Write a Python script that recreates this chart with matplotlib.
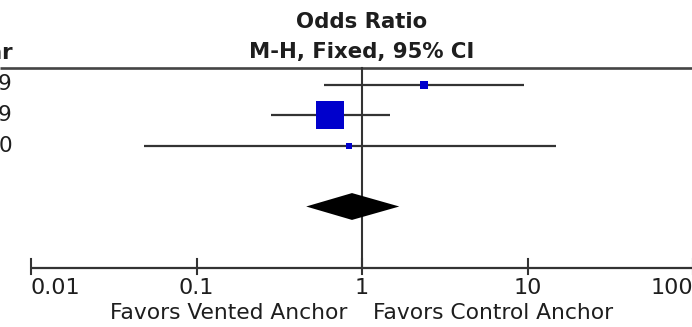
import numpy as np
import matplotlib
matplotlib.use("Agg")
import matplotlib.pyplot as plt

# Data
years = ["2019", "2009", "2010"]
odds_ratio = [2.38, 0.64, 0.84]
ci_lower = [0.59, 0.28, 0.048]
ci_upper = [9.5, 1.47, 14.9]
weights = [5.7, 91.4, 2.9]
pooled_or = 0.87
pooled_lower = 0.46
pooled_upper = 1.68
tick_values = [0.01, 0.1, 1, 10, 100]
tick_labels = ["0.01", "0.1", "1", "10", "100"]
left_label = "Favors Vented Anchor"
right_label = "Favors Control Anchor"

W, H = 692, 327
fig = plt.figure(figsize=(W / 100, H / 100), dpi=100)
ax = fig.add_axes([0, 0, 1, 1])
ax.set_xscale("log")
dec = 165.5
x1 = 362.0
ax.set_xlim(10 ** (-x1 / dec), 10 ** ((W - x1) / dec))
row0, sp = 84.5, 30.5
ax.set_ylim((H - row0) / sp, (0 - row0) / sp)
ax.axis("off")

def py(pix):
    return (pix - row0) / sp

line_col = "#333333"
txt_col = "#1e1e1e"
xmin, xmax = ax.get_xlim()

# header line
ax.plot([xmin, xmax], [py(68), py(68)], color="#444444", lw=1.9, solid_capstyle="butt")
# vertical line at 1
ax.plot([1, 1], [py(68), py(268)], color=line_col, lw=1.5)

# studies
for i, (o, lo, hi, w) in enumerate(zip(odds_ratio, ci_lower, ci_upper, weights)):
    ax.plot([lo, hi], [i, i], color=line_col, lw=1.6, solid_capstyle="butt", zorder=2)
    size_px = 3.0 * np.sqrt(w)
    ax.plot([o], [i], marker="s", markersize=size_px * 0.72, color="#0000CC",
            markeredgewidth=0, zorder=3)

# diamond
dy = 0.44
yd = len(years) + 1
ax.fill([pooled_lower, pooled_or, pooled_upper, pooled_or],
        [yd, yd - dy, yd, yd + dy], color="black", zorder=3, lw=0)

# x axis
ya = py(268)
ax.plot([tick_values[0], xmax], [ya, ya], color=line_col, lw=1.6, solid_capstyle="butt")
for k, (tv, tl) in enumerate(zip(tick_values, tick_labels)):
    ax.plot([tv, tv], [ya - 0.28, ya + 0.2], color=line_col, lw=1.5)
    ha = "center"
    if k == 0:
        ha = "left"
    elif k == len(tick_values) - 1:
        ha = "right"
    ax.text(tv, py(288), tl, ha=ha, va="center", fontsize=16, color=txt_col)

ax.text(10 ** ((347 - x1) / dec), py(313), left_label, ha="right", va="center",
        fontsize=15.7, color=txt_col)
ax.text(10 ** ((373 - x1) / dec), py(313), right_label, ha="left", va="center",
        fontsize=15.7, color=txt_col)

# headers
ax.text(1, py(22), "Odds Ratio", ha="center", va="center", fontsize=15.3,
        fontweight="bold", color=txt_col)
ax.text(1, py(52), "M-H, Fixed, 95% CI", ha="center", va="center", fontsize=15.3,
        fontweight="bold", color=txt_col)

xl = 10 ** ((12.5 - x1) / dec)
ax.text(xl, py(53), "Year", ha="right", va="center", fontsize=15.3,
        fontweight="bold", color=txt_col)
for i, yr in enumerate(years):
    ax.text(xl, i, yr, ha="right", va="center", fontsize=15.5, color=txt_col)

fig.savefig("out.png", dpi=100)
